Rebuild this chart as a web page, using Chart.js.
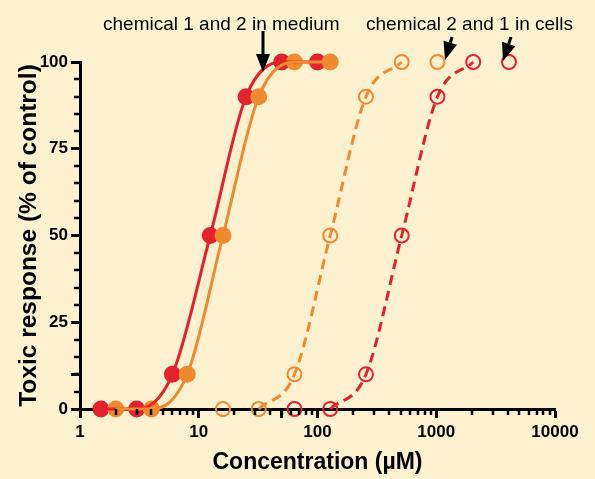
<!DOCTYPE html>
<html>
<head>
<meta charset="utf-8">
<script src="https://cdn.jsdelivr.net/npm/chart.js@4/dist/chart.umd.min.js"></script>
<style>
  body { margin: 0; background: #fef1d0; }
  canvas { display: block; }
</style>
</head>
<body>
<canvas id="chart" width="595" height="479"></canvas>
<script>
// concentrations (µM), response in % of control
const medium1Conc = [1.5, 3, 6, 12.5, 25, 50, 100];
const medium1Resp = [0, 0, 10, 50, 90, 100, 100];
const medium2Conc = [2, 4, 8, 16, 32, 64, 128];
const medium2Resp = [0, 0, 10, 50, 90, 100, 100];
const cells2Conc = [16, 32, 64, 128, 256, 512, 1024];
const cells2Resp = [0, 0, 10, 50, 90, 100, 100];
const cells1Conc = [64, 128, 256, 512, 1024, 2048, 4096];
const cells1Resp = [0, 0, 10, 50, 90, 100, 100];

const xDecades = [1, 10, 100, 1000, 10000];
const yLabels = [0, 25, 50, 75, 100];

const RED = '#e2232e';
const ORANGE = '#ef8a2f';
const FONT = '"Liberation Sans", Arial, sans-serif';

function pts(xs, ys) {
  return xs.map((v, i) => ({ x: v, y: ys[i] }));
}

// fitted curve (line only) + the measured points on top
function curve(xs, ys, color, dashed, from, to) {
  return {
    data: pts(xs, ys).slice(from, to),
    borderColor: color,
    borderWidth: 3,
    borderDash: dashed ? [10, 6] : [],
    cubicInterpolationMode: 'monotone',
    pointRadius: 0,
    clip: false
  };
}
function points(xs, ys, color, open) {
  return {
    data: pts(xs, ys),
    showLine: false,
    pointRadius: open ? 7 : 7.5,
    pointBorderWidth: 2,
    pointBorderColor: color,
    pointBackgroundColor: open ? 'rgba(0,0,0,0)' : color,
    clip: false
  };
}

function arrow(ctx, x1, y1, x2, y2) {
  const ang = Math.atan2(y2 - y1, x2 - x1);
  const hl = 18, hw = 7;
  const bx = x2 - hl * Math.cos(ang), by = y2 - hl * Math.sin(ang);
  ctx.beginPath();
  ctx.moveTo(x1, y1);
  ctx.lineTo(bx, by);
  ctx.lineWidth = 3;
  ctx.stroke();
  ctx.beginPath();
  ctx.moveTo(x2, y2);
  ctx.lineTo(bx + hw * Math.sin(ang), by - hw * Math.cos(ang));
  ctx.lineTo(bx - hw * Math.sin(ang), by + hw * Math.cos(ang));
  ctx.closePath();
  ctx.fill();
}

const extras = {
  id: 'extras',
  beforeDraw(chart) {
    const ctx = chart.ctx;
    ctx.save();
    ctx.fillStyle = '#fef1d0';
    ctx.fillRect(0, 0, chart.width, chart.height);
    ctx.restore();
  },
  afterDraw(chart) {
    const { ctx, chartArea: a, scales: { x, y } } = chart;
    ctx.save();
    ctx.strokeStyle = '#000';
    ctx.fillStyle = '#000';
    ctx.lineWidth = 2.5;
    // minor ticks
    x.ticks.forEach(t => {
      if (xDecades.includes(t.value)) return;
      const px = Math.round(x.getPixelForValue(t.value));
      ctx.beginPath(); ctx.moveTo(px, a.bottom); ctx.lineTo(px, a.bottom + 6); ctx.stroke();
    });
    y.ticks.forEach(t => {
      if (yLabels.includes(t.value)) return;
      const py = Math.round(y.getPixelForValue(t.value));
      ctx.beginPath(); ctx.moveTo(a.left, py); ctx.lineTo(a.left - 6, py); ctx.stroke();
    });
    // annotations
    ctx.font = '19px ' + FONT;
    ctx.textBaseline = 'alphabetic';
    ctx.fillText('chemical 1 and 2 in medium', 103, 30);
    ctx.fillText('chemical 2 and 1 in cells', 366, 30);
    arrow(ctx, 263, 31, 263, 72);
    arrow(ctx, 452, 37, 445, 60);
    arrow(ctx, 511, 37, 503, 61);
    ctx.restore();
  }
};

const tickColor = ctx => (ctx.tick && (xDecades.includes(ctx.tick.value) || yLabels.includes(ctx.tick.value))) ? '#000' : 'rgba(0,0,0,0)';

new Chart(document.getElementById('chart'), {
  type: 'line',
  data: {
    datasets: [
      curve(medium2Conc, medium2Resp, ORANGE, false, 0, 7),
      curve(medium1Conc, medium1Resp, RED, false, 0, 7),
      curve(cells2Conc, cells2Resp, ORANGE, true, 1, 6),
      curve(cells1Conc, cells1Resp, RED, true, 1, 6),
      points(medium2Conc, medium2Resp, ORANGE, false),
      points(medium1Conc, medium1Resp, RED, false),
      points(cells2Conc, cells2Resp, ORANGE, true),
      points(cells1Conc, cells1Resp, RED, true)
    ]
  },
  options: {
    responsive: false,
    animation: false,
    devicePixelRatio: 1,
    layout: { padding: { top: 62, right: 40, left: 0, bottom: 0 } },
    plugins: { legend: { display: false }, tooltip: { enabled: false } },
    scales: {
      x: {
        type: 'logarithmic',
        min: 1,
        max: 10000,
        afterBuildTicks: s => {
          const vals = [];
          xDecades.forEach((d, i) => {
            vals.push(d);
            if (i < xDecades.length - 1) for (let k = 2; k <= 9; k++) vals.push(k * d);
          });
          s.ticks = vals.map(v => ({ value: v }));
        },
        afterFit: s => { s.height = 70; },
        border: { color: '#000', width: 3 },
        grid: { display: true, drawOnChartArea: false, tickLength: 9, tickWidth: 3, tickColor: tickColor },
        ticks: {
          autoSkip: false,
          maxRotation: 0,
          padding: 4,
          color: '#000',
          font: { family: FONT, size: 17, weight: 'bold' },
          callback: v => xDecades.includes(v) ? String(v) : ''
        },
        title: {
          display: true,
          text: 'Concentration (µM)',
          color: '#000',
          font: { family: FONT, size: 23, weight: 'bold' },
          padding: { top: 0, bottom: 3 }
        }
      },
      y: {
        min: 0,
        max: 100,
        afterBuildTicks: s => {
          const vals = [];
          for (let v = 0; v <= 100; v += 5) vals.push({ value: v });
          s.ticks = vals;
        },
        afterFit: s => { s.width = 80; },
        border: { color: '#000', width: 3 },
        grid: { display: true, drawOnChartArea: false, tickLength: 9, tickWidth: 3, tickColor: tickColor },
        ticks: {
          autoSkip: false,
          padding: 3,
          color: '#000',
          font: { family: FONT, size: 17, weight: 'bold' },
          callback: v => yLabels.includes(v) ? String(v) : ''
        },
        title: {
          display: true,
          text: 'Toxic response (% of control)',
          color: '#000',
          font: { family: FONT, size: 24.5, weight: 'bold' },
          padding: { top: 15, bottom: 0 }
        }
      }
    }
  },
  plugins: [extras]
});
</script>
</body>
</html>
